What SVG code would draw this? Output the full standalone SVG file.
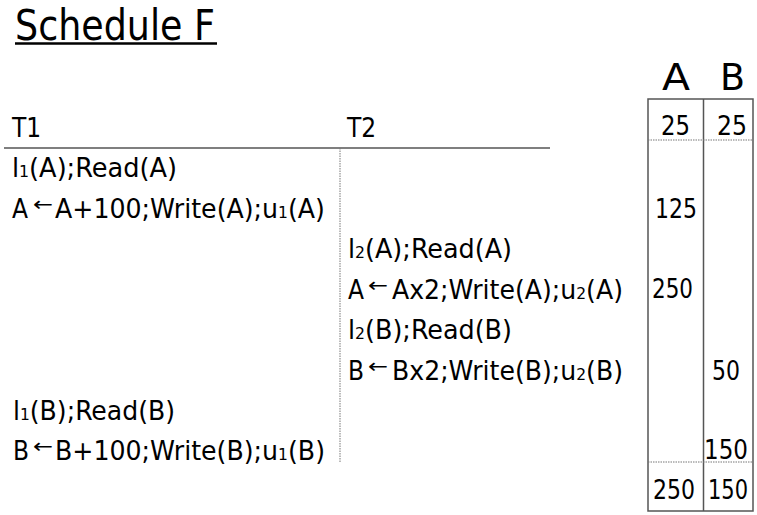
<svg xmlns="http://www.w3.org/2000/svg" width="757" height="515" viewBox="0 0 757 515">
<style>
text{font-family:"DejaVu Sans Condensed","DejaVu Sans",sans-serif;fill:#000}
.t{font-size:26px}
.s{font-size:16px}
.arr{font-size:20px}
.n{font-size:26px}
.h{font-size:37px}
.ln{stroke:#555;stroke-width:1.5;fill:none}
.dot{stroke:#777;stroke-width:1;stroke-dasharray:1.5 1;fill:none}
</style>
<rect width="757" height="515" fill="#fff"/>
<g id="title">
<text x="15" y="40" font-size="42" textLength="200" lengthAdjust="spacingAndGlyphs">Schedule F</text>
<line x1="15" y1="43.5" x2="217" y2="43.5" stroke="#000" stroke-width="2.5"/>
</g>
<g id="headers">
<text class="t" x="12" y="137">T1</text>
<text class="t" x="347" y="137">T2</text>
</g>
<g id="grid">
<line class="ln" x1="4" y1="148" x2="550" y2="148"/>
<line class="dot" x1="340" y1="148" x2="340" y2="462"/>
</g>
<g id="T1">
<text class="t" x="12" y="177" textLength="165" lengthAdjust="spacingAndGlyphs">l<tspan class="s">1</tspan>(A);Read(A)</text>
<text class="t" x="12" y="218">A</text>
<text class="arr" x="33" y="211" textLength="20" lengthAdjust="spacingAndGlyphs">←</text>
<text class="t" x="55" y="218" textLength="270" lengthAdjust="spacingAndGlyphs">A+100;Write(A);u<tspan class="s">1</tspan>(A)</text>
<text class="t" x="13" y="420" textLength="162" lengthAdjust="spacingAndGlyphs">l<tspan class="s">1</tspan>(B);Read(B)</text>
<text class="t" x="13" y="460">B</text>
<text class="arr" x="33" y="453" textLength="20" lengthAdjust="spacingAndGlyphs">←</text>
<text class="t" x="55" y="460" textLength="270" lengthAdjust="spacingAndGlyphs">B+100;Write(B);u<tspan class="s">1</tspan>(B)</text>
</g>
<g id="T2">
<text class="t" x="348" y="258" textLength="164" lengthAdjust="spacingAndGlyphs">l<tspan class="s">2</tspan>(A);Read(A)</text>
<text class="t" x="348" y="299">A</text>
<text class="arr" x="368" y="292" textLength="20" lengthAdjust="spacingAndGlyphs">←</text>
<text class="t" x="392" y="299" textLength="231" lengthAdjust="spacingAndGlyphs">Ax2;Write(A);u<tspan class="s">2</tspan>(A)</text>
<text class="t" x="348" y="339" textLength="164" lengthAdjust="spacingAndGlyphs">l<tspan class="s">2</tspan>(B);Read(B)</text>
<text class="t" x="348" y="380">B</text>
<text class="arr" x="368" y="373" textLength="20" lengthAdjust="spacingAndGlyphs">←</text>
<text class="t" x="392" y="380" textLength="231" lengthAdjust="spacingAndGlyphs">Bx2;Write(B);u<tspan class="s">2</tspan>(B)</text>
</g>
<g id="values">
<text class="h" x="662" y="90" textLength="28" lengthAdjust="spacingAndGlyphs">A</text>
<text class="h" x="720" y="90" textLength="25" lengthAdjust="spacingAndGlyphs">B</text>
<rect class="ln" x="648" y="99" width="105" height="412"/>
<line class="ln" x1="703.5" y1="99" x2="703.5" y2="511"/>
<line class="dot" x1="648" y1="140" x2="753" y2="140"/>
<line class="dot" x1="648" y1="462" x2="753" y2="462"/>
<text class="n" x="661" y="135" textLength="29" lengthAdjust="spacingAndGlyphs">25</text>
<text class="n" x="717" y="135" textLength="30" lengthAdjust="spacingAndGlyphs">25</text>
<text class="n" x="655" y="218" textLength="42" lengthAdjust="spacingAndGlyphs">125</text>
<text class="n" x="652" y="298" textLength="41" lengthAdjust="spacingAndGlyphs">250</text>
<text class="n" x="712" y="380" textLength="28" lengthAdjust="spacingAndGlyphs">50</text>
<text class="n" x="704" y="459" textLength="44" lengthAdjust="spacingAndGlyphs">150</text>
<text class="n" x="653" y="499" textLength="42" lengthAdjust="spacingAndGlyphs">250</text>
<text class="n" x="708" y="499" textLength="40" lengthAdjust="spacingAndGlyphs">150</text>
</g>
</svg>
